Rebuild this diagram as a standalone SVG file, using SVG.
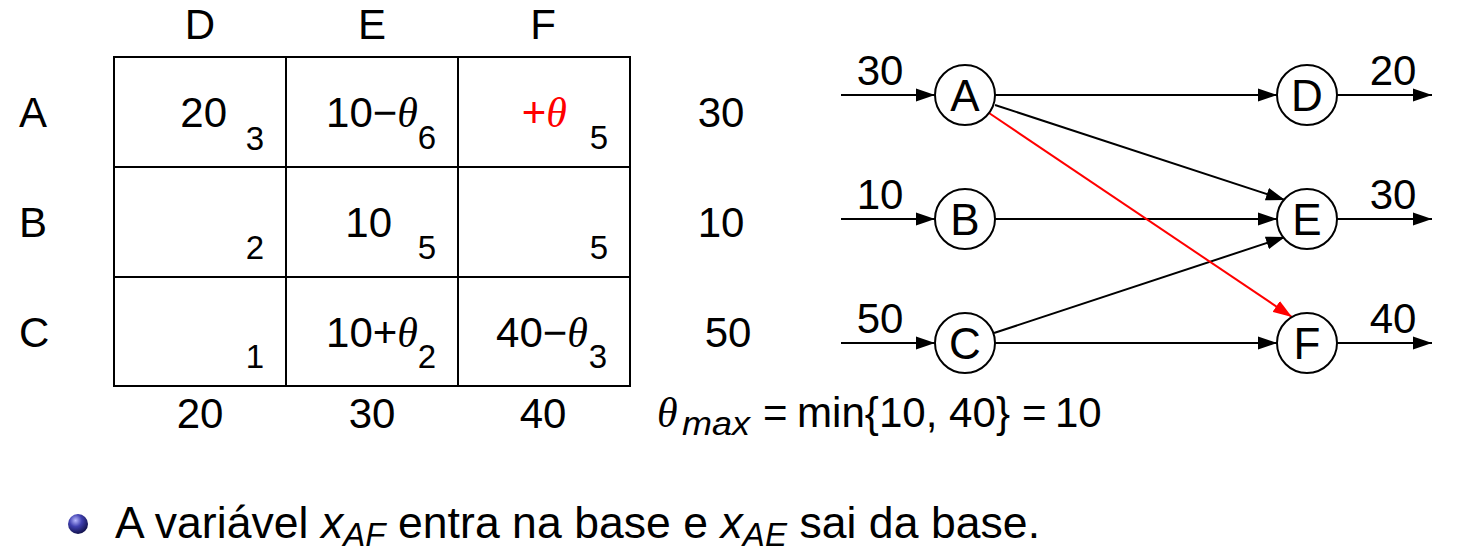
<svg xmlns="http://www.w3.org/2000/svg" width="1467" height="551" viewBox="0 0 1467 551">
<defs>
<style>
text{font-family:"Liberation Sans",Arial,sans-serif;fill:#000}
.big{font-size:42px}
.sub{font-size:33px}
.th{font-family:"Liberation Serif","Times New Roman",serif;font-style:italic}
.it{font-style:italic}
.c{text-anchor:middle}
.e{text-anchor:end}
.grid{stroke:#000;stroke-width:2;fill:none}
.edge{stroke:#000;stroke-width:2;fill:none}
.red{stroke:#ff0000;stroke-width:2;fill:none}
.node circle{fill:#fff;stroke:#000;stroke-width:2}
.lbl{font-size:44px;text-anchor:middle}
</style>
<marker id="ah" markerWidth="20" markerHeight="14" refX="19" refY="7" orient="auto" markerUnits="userSpaceOnUse"><path d="M0,0.5 L19,7 L0,13.5 z" fill="#000"/></marker>
<marker id="ahr" markerWidth="20" markerHeight="14" refX="19" refY="7" orient="auto" markerUnits="userSpaceOnUse"><path d="M0,0.5 L19,7 L0,13.5 z" fill="#ff0000"/></marker>
<radialGradient id="ball" cx="0.38" cy="0.32" r="0.7">
<stop offset="0" stop-color="#b8b8ff"/>
<stop offset="0.45" stop-color="#4040b0"/>
<stop offset="1" stop-color="#10104a"/>
</radialGradient>
</defs>

<g id="table">
<rect class="grid" x="114" y="57" width="516" height="329"/>
<line class="grid" x1="286" y1="57" x2="286" y2="386"/>
<line class="grid" x1="458" y1="57" x2="458" y2="386"/>
<line class="grid" x1="114" y1="167" x2="630" y2="167"/>
<line class="grid" x1="114" y1="277" x2="630" y2="277"/>

<text class="big c" x="200" y="39">D</text>
<text class="big c" x="372" y="39">E</text>
<text class="big c" x="543" y="39">F</text>

<text class="big" x="19" y="127">A</text>
<text class="big" x="19" y="237">B</text>
<text class="big" x="19" y="347">C</text>

<text class="big e" x="227" y="127">20</text>
<text class="sub e" x="264" y="150">3</text>
<text class="big e" x="418" y="127">10−<tspan class="th">θ</tspan></text>
<text class="sub e" x="436" y="149">6</text>
<text class="big e" x="567" y="127" style="fill:#ff0000">+<tspan class="th" style="fill:#ff0000">θ</tspan></text>
<text class="sub e" x="608" y="149">5</text>

<text class="sub e" x="264" y="259">2</text>
<text class="big e" x="392" y="237">10</text>
<text class="sub e" x="436" y="259">5</text>
<text class="sub e" x="608" y="259">5</text>

<text class="sub e" x="264" y="368">1</text>
<text class="big e" x="418" y="347">10+<tspan class="th">θ</tspan></text>
<text class="sub e" x="436" y="368">2</text>
<text class="big e" x="588" y="347">40−<tspan class="th">θ</tspan></text>
<text class="sub e" x="607" y="368">3</text>

<text class="big c" x="721" y="127">30</text>
<text class="big c" x="721" y="237">10</text>
<text class="big c" x="728" y="347">50</text>

<text class="big c" x="200" y="428">20</text>
<text class="big c" x="372" y="428">30</text>
<text class="big c" x="543" y="428">40</text>

<text class="big th" x="657" y="427">θ</text>
<text class="sub it" x="682" y="435" textLength="68" lengthAdjust="spacingAndGlyphs">max</text>
<text class="big" x="763" y="427">=</text>
<text class="big" x="797" y="427" textLength="213" lengthAdjust="spacingAndGlyphs">min{10, 40}</text>
<text class="big" x="1022" y="427">=</text>
<text class="big" x="1055" y="427">10</text>
</g>

<g id="connectors">
<path class="edge" d="M841,95 L935,95" marker-end="url(#ah)"/>
<path class="edge" d="M841,219 L935,219" marker-end="url(#ah)"/>
<path class="edge" d="M841,343 L935,343" marker-end="url(#ah)"/>
<path class="edge" d="M995,95 L1277,95" marker-end="url(#ah)"/>
<path class="edge" d="M995,105 L1285,200" marker-end="url(#ah)"/>
<path class="edge" d="M995,219 L1277,219" marker-end="url(#ah)"/>
<path class="edge" d="M994,333 L1285,237" marker-end="url(#ah)"/>
<path class="edge" d="M995,343 L1277,343" marker-end="url(#ah)"/>
<path class="red" d="M989,113 L1292,317" marker-end="url(#ahr)"/>
<path class="edge" d="M1337,95 L1432,95" marker-end="url(#ah)"/>
<path class="edge" d="M1337,219 L1432,219" marker-end="url(#ah)"/>
<path class="edge" d="M1337,343 L1432,343" marker-end="url(#ah)"/>
<text class="big c" x="880" y="85">30</text>
<text class="big c" x="880" y="209">10</text>
<text class="big c" x="880" y="333">50</text>
<text class="big c" x="1393" y="85">20</text>
<text class="big c" x="1393" y="209">30</text>
<text class="big c" x="1393" y="333">40</text>
</g>

<g id="node-A" class="node"><circle cx="965" cy="95" r="30"/><text class="lbl" x="965" y="111">A</text></g>
<g id="node-B" class="node"><circle cx="965" cy="219" r="30"/><text class="lbl" x="965" y="235">B</text></g>
<g id="node-C" class="node"><circle cx="965" cy="343" r="30"/><text class="lbl" x="965" y="359">C</text></g>
<g id="node-D" class="node"><circle cx="1307" cy="95" r="30"/><text class="lbl" x="1307" y="111">D</text></g>
<g id="node-E" class="node"><circle cx="1307" cy="219" r="30"/><text class="lbl" x="1307" y="235">E</text></g>
<g id="node-F" class="node"><circle cx="1307" cy="343" r="30"/><text class="lbl" x="1307" y="359">F</text></g>

<g id="bullet">
<circle cx="78" cy="524" r="10" fill="url(#ball)"/>
<text x="115" y="538" style="font-size:44.5px" textLength="925" lengthAdjust="spacing">A variável <tspan class="it">x</tspan><tspan class="it" style="font-size:33px" dy="8">AF</tspan><tspan dy="-8"> entra na base e </tspan><tspan class="it">x</tspan><tspan class="it" style="font-size:33px" dy="8">AE</tspan><tspan dy="-8"> sai da base.</tspan></text>
</g>
</svg>
